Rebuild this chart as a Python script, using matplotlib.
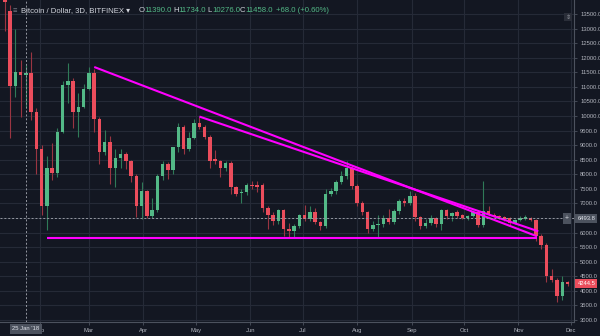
import pandas as pd
import numpy as np
import matplotlib
matplotlib.use('Agg')
import matplotlib.pyplot as plt
import matplotlib.dates as mdates

plt.rcParams['font.family'] = ['Liberation Sans', 'DejaVu Sans']

# --- data: 3D candles, Bitfinex BTC/USD 2018 ---
start_date = '2018-01-12'
opens = [14500, 13600, 11040, 11520, 11390, 11480, 10150, 8880, 6900, 8230,
         8060, 9460, 11070, 11210, 10150, 10320, 10935, 11480, 9910, 8750,
         9120, 8230, 8575, 8710, 8440, 7925, 6900, 7410, 6560, 6760,
         7925, 8340, 8130, 8920, 9630, 8880, 9260, 9770, 9630, 9290,
         8510, 8470, 8230, 8370, 7550, 7350, 7380, 7620, 7620, 7620,
         6830, 6590, 6390, 6760, 6110, 6050, 6210, 6590, 6450, 6700,
         6350, 6210, 7310, 7420, 7720, 7925, 8230, 7590, 7000, 6690,
         6110, 6250, 6280, 6490, 6350, 6730, 7070, 7000, 7240, 6520,
         6210, 6320, 6490, 6280, 6760, 6560, 6690, 6590, 6490, 6560,
         6700, 6250, 6730, 6620, 6560, 6540, 6490, 6320, 6420, 6450,
         6490, 6420, 5870, 5570, 4505, 4370, 3820, 4300]
highs = [14900, 13800, 13000, 11930, 11734, 12200, 10290, 9000, 8610, 9090,
         9600, 11200, 11820, 11300, 10800, 11100, 11690, 11600, 9950, 9530,
         9300, 8880, 8880, 8780, 8500, 8000, 7740, 7450, 7170, 8000,
         8440, 8420, 8950, 9770, 9700, 9460, 9880, 9980, 9700, 9350,
         8820, 8500, 8450, 8450, 7600, 7500, 7700, 7755, 7760, 7700,
         6900, 6700, 6800, 6800, 6320, 6300, 6650, 6930, 6900, 6860,
         6400, 7480, 7520, 7800, 8100, 8440, 8300, 7650, 7100, 6750,
         6400, 6610, 6600, 6820, 6800, 7150, 7200, 7410, 7350, 6560,
         6450, 6600, 6550, 6800, 6800, 6700, 6760, 6640, 6600, 6760,
         6760, 7760, 6900, 6680, 6600, 6580, 6530, 6480, 6560, 6620,
         6530, 6470, 5950, 5650, 4750, 4450, 4500, 4350]
lows = [12900, 9250, 10650, 9950, 10276, 9870, 8000, 6620, 6100, 7820,
        7900, 9400, 10450, 9600, 9290, 10290, 10900, 9460, 8340, 8650,
        7650, 7550, 8220, 8190, 7740, 6530, 6450, 6500, 6500, 6700,
        7800, 7830, 8000, 8780, 8710, 8800, 9200, 9550, 9200, 8230,
        8350, 7920, 8100, 7310, 7240, 7000, 7300, 7500, 7380, 6700,
        6110, 6250, 6300, 5870, 5800, 5830, 6150, 6400, 6400, 6300,
        6080, 6150, 7250, 7310, 7650, 7850, 7500, 6900, 6600, 6000,
        6050, 5840, 6200, 6300, 6300, 6650, 6900, 6950, 6400, 6110,
        6150, 6250, 6200, 6100, 6450, 6380, 6500, 6450, 6440, 6520,
        6200, 6200, 6580, 6520, 6460, 6400, 6250, 6280, 6380, 6420,
        6380, 5700, 5430, 4300, 4300, 3620, 3700, 4150]
closes = [13900, 11040, 11520, 11390, 11458, 10150, 8880, 6900, 8230, 8060,
          9460, 11070, 11210, 10150, 10320, 10935, 11480, 9910, 8750, 9120,
          8230, 8575, 8710, 8440, 7925, 6900, 7410, 6560, 6760, 7925,
          8340, 8130, 8920, 9630, 8880, 9260, 9770, 9630, 9290, 8440,
          8470, 8230, 8370, 7550, 7310, 7380, 7620, 7590, 7580, 6830,
          6590, 6390, 6760, 6110, 6050, 6210, 6590, 6450, 6700, 6350,
          6210, 7310, 7420, 7720, 7925, 8230, 7590, 7000, 6690, 6110,
          6250, 6280, 6490, 6350, 6730, 7070, 7000, 7240, 6520, 6210,
          6320, 6490, 6280, 6760, 6560, 6660, 6560, 6490, 6560, 6700,
          6250, 6730, 6620, 6560, 6520, 6450, 6320, 6420, 6490, 6520,
          6420, 5870, 5570, 4505, 4370, 3820, 4300, 4244.5]

# drawn trend lines (date, price) pairs
trend_long = (['2018-03-04 00:00', '2018-11-11 14:00'], [11680, 5873])
trend_may = (['2018-05-03 00:00', '2018-11-12 08:00'], [9980, 6044])
support = (['2018-02-05 00:00', '2018-11-11 12:00'], [5823, 5823])

crosshair_date = '2018-01-24'
crosshair_price = 6493.8
last_price = 4244.5
month_labels = ['Feb', 'Mar', 'Apr', 'May', 'Jun', 'Jul', 'Aug', 'Sep', 'Oct', 'Nov', 'Dec']
price_ticks = list(range(3000, 14000, 500))

BG = '#131722'
GRID = '#252a37'
UP = '#53b987'
DOWN = '#eb4d5c'
TXT = '#b2b5be'

dates = pd.date_range(start_date, periods=len(opens), freq='3D')
o = np.array(opens, float)
h = np.array(highs, float)
l = np.array(lows, float)
c = np.array(closes, float)
up = c >= o

W, H = 600, 336
fig = plt.figure(figsize=(6, 3.36), dpi=100, facecolor=BG)
ax = fig.add_axes([0, 1 - 322 / H, 574 / W, 322 / H], facecolor=BG)

x = mdates.date2num(dates)
ax.vlines(x, l, h, colors=np.where(up, '#2f7a58', '#9a3542'), linewidth=0.8, zorder=2)
body = np.where(np.abs(c - o) < 30, 30, np.abs(c - o))
ax.bar(x, body, bottom=np.minimum(o, c), width=2.0,
       color=np.where(up, UP, DOWN), linewidth=0, zorder=3)

for d, p in [trend_long, trend_may, support]:
    ax.plot(mdates.date2num(pd.to_datetime(d, format='ISO8601')), p, color='#ff00ff', linewidth=1.5,
            solid_capstyle='butt', zorder=4)

x0 = mdates.date2num(pd.Timestamp('2018-01-25'))
ax.set_xlim(x0 - 15.75, x0 + 311.7)
ax.set_ylim(2932, 13979)

# grid
months = pd.date_range('2018-02-01', periods=len(month_labels), freq='MS')
ax.set_xticks(mdates.date2num(months))
ax.set_xticklabels(month_labels)
ax.set_yticks(price_ticks)
# 6500 label sits under the crosshair price box
ax.set_yticklabels(['' if v == 6500 else f'{v:.1f}' for v in price_ticks])
ax.grid(True, color=GRID, linewidth=0.8)
ax.set_axisbelow(True)
ax.yaxis.tick_right()
ax.tick_params(axis='y', colors='#4c525e', labelcolor=TXT, labelsize=4.2, length=2, width=0.6, pad=2.5)
ax.tick_params(axis='x', colors='#4c525e', labelcolor=TXT, labelsize=4.2, length=2, width=0.6, pad=2.5)
for s in ['top', 'left']:
    ax.spines[s].set_visible(False)
for s in ['right', 'bottom']:
    ax.spines[s].set_color('#4c525e')
    ax.spines[s].set_linewidth(0.8)

# crosshair
cx = mdates.date2num(pd.Timestamp(crosshair_date))
ax.axvline(cx, color='#9598a1', linewidth=0.7, linestyle=(0, (2, 2)), zorder=5)
ax.axhline(crosshair_price, color='#9598a1', linewidth=0.7, linestyle=(0, (2, 2)), zorder=5)

ax.annotate("25 Jan '18", xy=(cx, 0), xycoords=('data', 'axes fraction'), xytext=(0, -5),
            textcoords='offset points', ha='center', va='center', fontsize=4.2, color='#e0e3eb',
            bbox=dict(boxstyle='square,pad=0.45', fc='#4c525e', ec='none'), annotation_clip=False, zorder=10)
ax.annotate(f'{crosshair_price:.1f}', xy=(1, crosshair_price), xycoords=('axes fraction', 'data'),
            xytext=(2.5, 0), textcoords='offset points', ha='left', va='center', fontsize=4.2,
            color='#e0e3eb', bbox=dict(boxstyle='square,pad=0.35', fc='#4c525e', ec='none'),
            annotation_clip=False, zorder=10)
ax.annotate('+', xy=(1, crosshair_price), xycoords=('axes fraction', 'data'),
            xytext=(-5, 0), textcoords='offset points', ha='center', va='center', fontsize=5,
            color='#d1d4dc', bbox=dict(boxstyle='square,pad=0.3', fc='#4c525e', ec='none'),
            annotation_clip=False, zorder=10)
ax.annotate(f'{last_price:.1f}', xy=(1, last_price), xycoords=('axes fraction', 'data'),
            xytext=(2.5, 0), textcoords='offset points', ha='left', va='center', fontsize=4.2,
            color='white', bbox=dict(boxstyle='square,pad=0.35', fc=DOWN, ec='none'),
            annotation_clip=False, zorder=10)

# header text
ty = 1 - 11 / H
fig.text(13 / W, ty, '≡', fontsize=5.5, color='#787b86', va='center')
fig.text(21 / W, ty, 'Bitcoin / Dollar, 3D, BITFINEX ▾', fontsize=5.6, color='#d1d4dc', va='center')
segs = [(139, 'O', '11390.0'), (173, 'H', '11734.0'), (207, 'L', '10276.0'), (240, 'C', '11458.0')]
for px, k, v in segs:
    fig.text(px / W, ty, k, fontsize=5.6, color='#d1d4dc', va='center')
    fig.text((px + 5) / W, ty, v, fontsize=5.6, color=UP, va='center')
fig.text(276 / W, ty, '+68.0 (+0.60%)', fontsize=5.6, color=UP, va='center')
fig.text(568 / W, 1 - 17 / H, '⇕', fontsize=4.5, color='#9598a1', ha='center', va='center',
         bbox=dict(boxstyle='square,pad=0.2', fc='#2a2e39', ec='none'))

fig.savefig('out.png', dpi=100, facecolor=BG)
